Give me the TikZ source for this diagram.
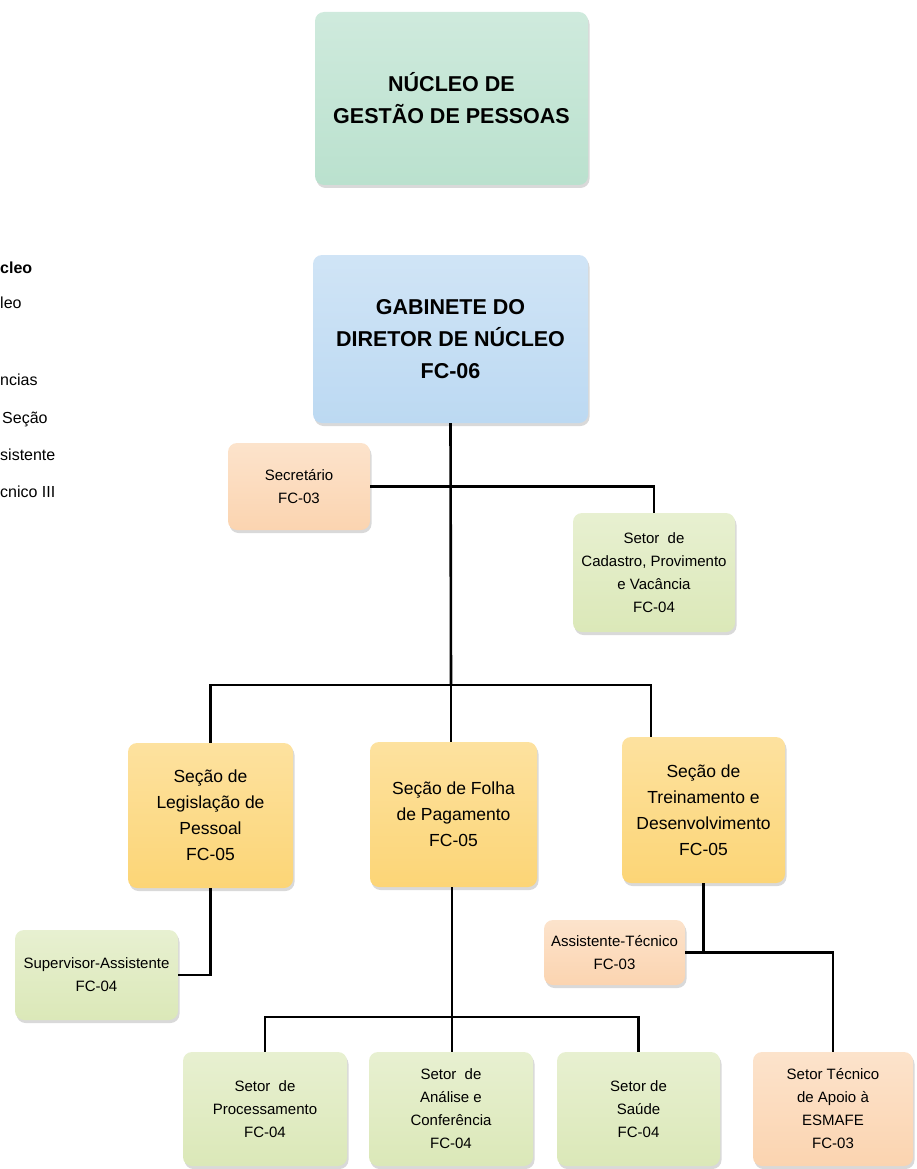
\documentclass[tikz,border=0pt]{standalone}
\usepackage{fontspec}
\setmainfont{Liberation Sans}
\usepackage{tikz}
\usetikzlibrary{calc}
\usetikzlibrary{positioning,shadows}
\definecolor{verdeagua}{RGB}{186,225,206}
\definecolor{azulclaro}{RGB}{188,217,242}
\definecolor{pessego}{RGB}{251,212,176}
\definecolor{verdelima}{RGB}{219,232,184}
\definecolor{ouro}{RGB}{252,213,118}
\tikzset{caixa/.style={draw=none, rounded corners=9pt, align=center, inner sep=2pt, drop shadow={opacity=0.3, shadow xshift=1.5pt, shadow yshift=-3pt}}}
\tikzset{nucleo/.style={caixa, top color=verdeagua!70!white, bottom color=verdeagua}}
\tikzset{gabinete/.style={caixa, top color=azulclaro!70!white, bottom color=azulclaro}}
\tikzset{secao/.style={caixa, top color=ouro!70!white, bottom color=ouro, font=\fontsize{17.5}{26}\selectfont}}
\tikzset{setor/.style={caixa, top color=verdelima!65!white, bottom color=verdelima}}
\tikzset{apoio/.style={caixa, top color=pessego!65!white, bottom color=pessego}}
\tikzset{liga/.style={draw=black, line width=2.6pt}}
\tikzset{legenda/.style={anchor=west, inner sep=0pt, font=\fontsize{16}{18}\selectfont}}

\begin{document}
\begin{tikzpicture}[x=1pt, y=-1pt, font=\fontsize{15}{23}\selectfont]
		\useasboundingbox (0,0) rectangle (917,1169);
		\node[nucleo, minimum width=273, minimum height=173, font=\fontsize{21.5}{32}\selectfont\bfseries] (ngp) at (451.5,98.5) {NÚCLEO DE\\GESTÃO DE PESSOAS};
		\node[gabinete, minimum width=275, minimum height=168, font=\fontsize{21.5}{32}\selectfont\bfseries] (gab) at (450.5,339) {GABINETE DO\\DIRETOR DE NÚCLEO\\FC-06};
		
		\node[apoio, minimum width=142, minimum height=87] (sec) at (299,486.5) {Secretário\\FC-03};
		\node[setor, minimum width=162, minimum height=119] (cad) at (654,572.5) {Setor\ \ de\\Cadastro, Provimento\\e Vacância\\FC-04};
		
		\node[secao, minimum width=165, minimum height=145] (leg) at (210.5,815.5) {Seção de\\Legislação de\\Pessoal\\FC-05};
		\node[secao, minimum width=167, minimum height=145] (folha) at (453.5,814.5) {Seção de Folha\\de Pagamento\\FC-05};
		\node[secao, minimum width=163, minimum height=146] (trei) at (703.5,810) {Seção de\\Treinamento e\\Desenvolvimento\\FC-05};
		
		\node[setor, minimum width=163, minimum height=90] (sup) at (96.5,975) {Supervisor-Assistente\\FC-04};
		\node[apoio, minimum width=141, minimum height=65] (ast) at (614.5,952.5) {Assistente-Técnico\\FC-03};
		
		\node[setor, minimum width=164, minimum height=114] (proc) at (265,1109) {Setor\ \ de\\Processamento\\FC-04};
		\node[setor, minimum width=164, minimum height=114] (anal) at (451,1109) {Setor\ \ de\\Análise e\\Conferência\\FC-04};
		\node[setor, minimum width=163, minimum height=114] (saude) at (638.5,1109) {Setor de\\Saúde\\FC-04};
		\node[apoio, minimum width=160, minimum height=114] (esm) at (833,1109) {Setor Técnico\\de Apoio à\\ESMAFE\\FC-03};
		
		% texto cortado na margem
		\node[legenda, font=\fontsize{16}{18}\selectfont\bfseries] (l1) at (0,268) {cleo};
		\node[legenda] (l2) at (0,303) {leo};
		\node[legenda] (l3) at (0,380) {ncias};
		\node[legenda] (l4) at (2,419) {Seção};
		\node[legenda] (l5) at (0,455) {sistente};
		\node[legenda] (l6) at (0,492) {cnico III};
		
		\coordinate (bus) at (451,685);
		\coordinate (tj) at (651,685);
		\coordinate (bus2) at (452,1017);
		
		\draw[liga] (gab.south) -- (bus);
		\draw[liga] (sec.east) -- (sec.east -| cad.north) -- (cad.north);
		\draw[liga] (leg.north) |- (tj) -- (tj |- trei.north);
		\draw[liga] (bus) -- (bus |- folha.north);
		\draw[liga] (leg.south) |- (sup.east);
		\draw[liga] (trei.south) |- (ast.east);
		\draw[liga] (trei.south |- ast.east) -| (esm.north);
		\draw[liga] (folha.south -| bus2) -- (bus2 |- anal.north);
		\draw[liga] (proc.north) |- (bus2) -| (saude.north);
	\end{tikzpicture}
\end{document}
